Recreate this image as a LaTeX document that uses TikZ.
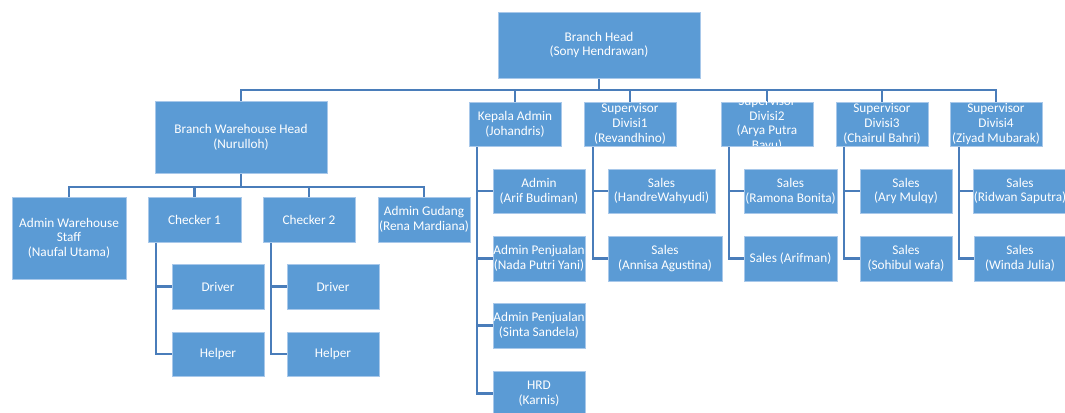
\documentclass[tikz,border=0pt]{standalone}
\usepackage{fontspec}
\setmainfont{Carlito}
\usetikzlibrary{backgrounds}
\definecolor{boxblue}{HTML}{5B9BD5}
\definecolor{linkblue}{HTML}{4A7DBA}
\definecolor{edgeblue}{HTML}{A8C8EA}
\newcommand{\orgbox}[6]{\node[orgnode, minimum width={(#4-#2)*0.75pt}, minimum height={(#5-#3)*0.75pt}] (#1) at ({(#2+#4)/2},{(#3+#5)/2}) {#6};}
\begin{document}
\begin{tikzpicture}[x=0.75pt,y=-0.75pt,
  orgnode/.style={rectangle, fill=boxblue, draw=edgeblue, line width=0.5pt, inner sep=0pt, outer sep=0pt, text=white, align=center, font=\fontsize{9.95}{11}\selectfont},
  orgtext/.style={inner sep=0pt, text=white, align=center, font=\fontsize{9.95}{11}\selectfont},
  link/.style={draw=linkblue, line width=1.6pt}]
\useasboundingbox (0,0) rectangle (1065,413);
% top
\orgbox{bh}{498}{12}{700}{78}{Branch Head\\(Sony Hendrawan)}
\orgbox{bwh}{155}{101}{327}{173}{Branch Warehouse Head\\(Nurulloh)}
\orgbox{ka}{469}{102}{561}{146}{Kepala Admin\\(Johandris)}
\orgbox{sa}{584}{102}{676}{146}{Supervisor\\Divisi1\\(Revandhino)}
\orgbox{sb}{721}{102}{813}{146}{}
\begin{scope}
\clip (sb.south west) rectangle (sb.north east);
\node[orgtext] (sbt) at (sb.center) {Supervisor\\Divisi2\\(Arya Putra\\Bayu)};
\end{scope}
\orgbox{sc}{836}{102}{928}{146}{Supervisor\\Divisi3\\(Chairul Bahri)}
\orgbox{sd}{950}{102}{1042}{146}{Supervisor\\Divisi4\\(Ziyad Mubarak)}
% warehouse
\orgbox{aws}{12}{197}{126}{279}{Admin Warehouse\\Staff\\(Naufal Utama)}
\orgbox{cha}{148}{197}{241}{242}{Checker 1}
\orgbox{chb}{263}{197}{355}{242}{Checker 2}
\orgbox{ag}{378}{197}{470}{242}{Admin Gudang\\(Rena Mardiana)}
\orgbox{dra}{172}{264}{264}{309}{Driver}
\orgbox{hpa}{172}{332}{264}{376}{Helper}
\orgbox{drb}{287}{264}{379}{309}{Driver}
\orgbox{hpb}{287}{332}{379}{376}{Helper}
% admin
\orgbox{ada}{493}{169}{585}{213}{Admin\\(Arif Budiman)}
\orgbox{adb}{493}{236}{585}{281}{Admin Penjualan\\(Nada Putri Yani)}
\orgbox{adc}{493}{303}{585}{348}{Admin Penjualan\\(Sinta Sandela)}
\orgbox{hrd}{493}{371}{585}{416}{HRD\\(Karnis)}
% sales
\orgbox{saa}{608}{169}{715}{213}{Sales\\(HandreWahyudi)}
\orgbox{sab}{608}{236}{722}{281}{Sales\\(Annisa Agustina)}
\orgbox{sba}{744}{169}{837}{213}{Sales\\(Ramona Bonita)}
\orgbox{sbb}{744}{236}{837}{281}{Sales (Arifman)}
\orgbox{sca}{860}{169}{952}{213}{Sales\\(Ary Mulqy)}
\orgbox{scb}{860}{236}{952}{281}{Sales\\(Sohibul wafa)}
\orgbox{sda}{974}{169}{1066}{213}{Sales\\(Ridwan Saputra)}
\orgbox{sdb}{974}{236}{1066}{281}{Sales\\(Winda Julia)}
\begin{pgfonlayer}{background}
\fill[white] (0,0) rectangle (1065,413);
\path (bh.south) ++(0,12) coordinate (busa);
\draw[link] (bh.south) -- (busa);
\draw[link] (busa) -| (bwh.north);
\draw[link] (busa) -| (ka.north);
\draw[link] (busa) -| (sa.north);
\draw[link] (busa) -| (sb.north);
\draw[link] (busa) -| (sc.north);
\draw[link] (busa) -| (sd.north);
\path (bwh.south) ++(0,14) coordinate (busb);
\draw[link] (bwh.south) -- (busb);
\draw[link] (busb) -| (aws.north);
\draw[link] (busb) -| (cha.north);
\draw[link] (busb) -| (chb.north);
\draw[link] (busb) -| (ag.north);
\draw[link] (cha.south west) ++(8,0) |- (dra.west) (cha.south west) ++(8,0) |- (hpa.west);
\draw[link] (chb.south west) ++(8,0) |- (drb.west) (chb.south west) ++(8,0) |- (hpb.west);
\draw[link] (ka.south west) ++(8,0) |- (ada.west) (ka.south west) ++(8,0) |- (adb.west)
  (ka.south west) ++(8,0) |- (adc.west) (ka.south west) ++(8,0) |- (hrd.west);
\draw[link] (sa.south west) ++(9,0) |- (saa.west) (sa.south west) ++(9,0) |- (sab.west);
\draw[link] (sb.south west) ++(8,0) |- (sba.west) (sb.south west) ++(8,0) |- (sbb.west);
\draw[link] (sc.south west) ++(8,0) |- (sca.west) (sc.south west) ++(8,0) |- (scb.west);
\draw[link] (sd.south west) ++(9,0) |- (sda.west) (sd.south west) ++(9,0) |- (sdb.west);
\end{pgfonlayer}
\end{tikzpicture}
\end{document}
